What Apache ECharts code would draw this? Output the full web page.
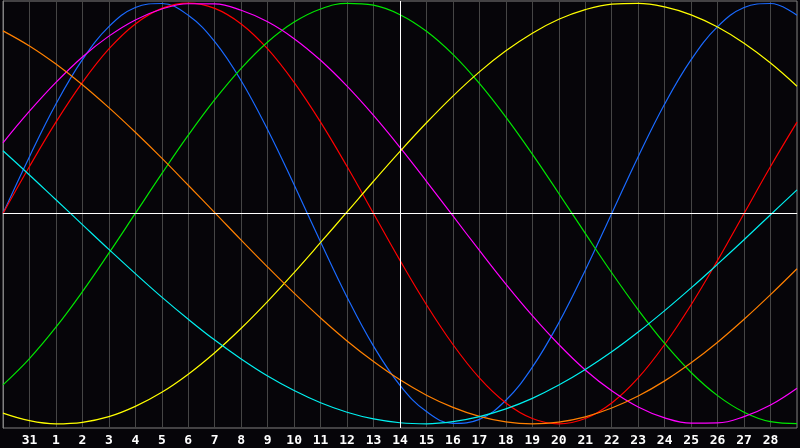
<!DOCTYPE html>
<html>
<head>
<meta charset="utf-8">
<title>Biorhythm</title>
<script src="https://cdn.jsdelivr.net/npm/echarts@6/dist/echarts.min.js"></script>
<style>
    html, body {margin: 0; padding: 0; background: #060509;}
    #container {width: 800px; height: 448px;}
</style>
</head>
<body>
<div id="container"></div>
<script>
// days shown along the bottom (first and last are at the plot edges, unlabeled)
const days = ['30', '31', '1', '2', '3', '4', '5', '6', '7', '8', '9', '10', '11', '12', '13', '14',
    '15', '16', '17', '18', '19', '20', '21', '22', '23', '24', '25', '26', '27', '28', '29'];
const today = '14';

// cycle values, one per day, in percent
const physical = [0, 27.0, 52.0, 73.1, 88.8, 97.9, 99.8, 94.2, 81.7, 63.1, 39.8, 13.6, -13.6, -39.8, -63.1, -81.7,
    -94.2, -99.8, -97.9, -88.8, -73.1, -52.0, -27.0, 0, 27.0, 52.0, 73.1, 88.8, 97.9, 99.8, 94.2];
const emotional = [0, 22.3, 43.4, 62.3, 78.2, 90.1, 97.5, 100, 97.5, 90.1, 78.2, 62.3, 43.4, 22.3, 0, -22.3,
    -43.4, -62.3, -78.2, -90.1, -97.5, -100, -97.5, -90.1, -78.2, -62.3, -43.4, -22.3, 0, 22.3, 43.4];
const intellectual = [-81.5, -69.0, -54.1, -37.2, -18.9, 0, 18.9, 37.2, 54.1, 69.0, 81.5, 91.0, 97.2, 99.9, 99.0, 94.5,
    86.6, 75.6, 61.8, 45.8, 28.2, 9.5, -9.5, -28.2, -45.8, -61.8, -75.6, -86.6, -94.5, -99.0, -99.9];
const intuitive = [33.6, 48.6, 62.3, 74.4, 84.3, 92.0, 97.2, 99.7, 99.6, 96.6, 91.1, 83.1, 72.8, 60.5, 46.6, 31.4,
    15.3, -1.2, -17.6, -33.6, -48.6, -62.3, -74.4, -84.3, -92.0, -97.2, -99.7, -99.6, -96.6, -91.1, -83.1];
const aesthetic = [-94.9, -98.5, -100, -99.3, -96.6, -91.7, -85.0, -76.4, -66.2, -54.6, -41.8, -28.1, -13.8, 0.7, 15.3, 29.5,
    43.1, 55.8, 67.3, 77.3, 85.7, 92.3, 96.9, 99.5, 99.9, 98.2, 94.4, 88.6, 80.9, 71.5, 60.5];
const awareness = [86.8, 79.6, 71.0, 61.2, 50.3, 38.6, 26.3, 13.4, 0.4, -12.7, -25.5, -37.9, -49.7, -60.6, -70.4, -79.1,
    -86.4, -92.2, -96.5, -99.1, -100, -99.2, -96.7, -92.5, -86.8, -79.6, -71.0, -61.2, -50.3, -38.6, -26.3];
const spiritual = [29.8, 18.3, 6.5, -5.3, -17.1, -28.6, -39.8, -50.3, -60.2, -69.2, -77.3, -84.2, -90.0, -94.5, -97.7, -99.5,
    -100, -99.0, -96.6, -92.9, -87.9, -81.6, -74.2, -65.8, -56.4, -46.2, -35.4, -24.1, -12.5, -0.6, 11.2];

const cycles = [
    {name: 'Physical', data: physical, color: '#1a6aff'},
    {name: 'Emotional', data: emotional, color: '#ff0000'},
    {name: 'Intellectual', data: intellectual, color: '#00e600'},
    {name: 'Intuitive', data: intuitive, color: '#ff00ff'},
    {name: 'Aesthetic', data: aesthetic, color: '#ffff00'},
    {name: 'Awareness', data: awareness, color: '#ff8000'},
    {name: 'Spiritual', data: spiritual, color: '#00f0f0'}
];

function draw_biorhythm() {
    let dom = document.getElementById("container");
    let myChart = echarts.init(dom, null, {renderer: 'canvas'});

    let series = cycles.map(function (c) {
        return {
            name: c.name,
            type: 'line',
            data: c.data,
            smooth: 0.4,
            showSymbol: false,
            symbol: 'none',
            lineStyle: {color: c.color, width: 1.2},
            itemStyle: {color: c.color},
            z: 3
        };
    });

    // center line and today's marker
    series.push({
        type: 'line',
        data: [],
        z: 2,
        markLine: {
            silent: true,
            symbol: 'none',
            label: {show: false},
            lineStyle: {color: '#ffffff', width: 1, type: 'solid'},
            data: [{yAxis: 0}, {xAxis: today}]
        }
    });

    let option = {
        backgroundColor: '#060509',
        animation: false,
        grid: {
            left: 1,
            right: -2,
            top: 1,
            bottom: 20,
            show: true,
            borderColor: '#808080',
            borderWidth: 1
        },
        xAxis: {
            type: 'category',
            boundaryGap: false,
            data: days,
            axisLine: {lineStyle: {color: '#909090', width: 1}},
            axisTick: {show: false},
            splitLine: {
                show: true,
                interval: 0,
                lineStyle: {color: '#454545', width: 1}
            },
            axisLabel: {
                interval: 0,
                margin: 6,
                color: '#ffffff',
                fontFamily: 'DejaVu Sans Mono',
                fontWeight: 'bold',
                fontSize: 13,
                formatter: function (value, index) {
                    if (index === 0 || index === days.length - 1) {
                        return '';
                    }
                    return value;
                }
            }
        },
        yAxis: {
            type: 'value',
            min: -102,
            max: 101,
            axisLine: {show: true, lineStyle: {color: '#808080'}},
            axisTick: {show: false},
            axisLabel: {show: false},
            splitLine: {show: false}
        },
        series: series
    };

    if (option && typeof option === "object") {
        myChart.setOption(option, true);
    }
}

draw_biorhythm();
</script>
</body>
</html>
